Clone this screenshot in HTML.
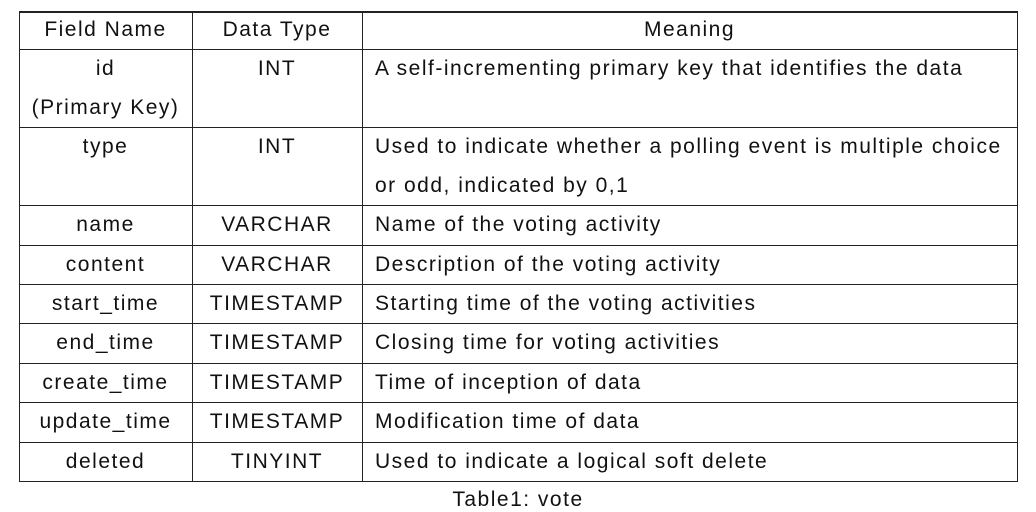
<!DOCTYPE html>
<html><head><meta charset="utf-8">
<style>
html,body{margin:0;padding:0;background:#fff;}
body{width:1036px;height:512px;position:relative;overflow:hidden;font-family:"Liberation Sans",sans-serif;font-size:21px;letter-spacing:1.5px;color:#111;}
.h{position:absolute;height:1.5px;background:#222;}
.v{position:absolute;width:1.5px;background:#222;}
.t{position:absolute;white-space:nowrap;line-height:24px;}
.c1{left:19px;width:173px;text-align:center;}
.c2{left:192px;width:170px;text-align:center;}
.c3{left:375px;}
</style></head><body>
<div id="tbl"></div>
<div class="t" style="left:0;width:1036px;text-align:center;top:488px;">Table1: vote</div>
<script>
const rows=[
 ["id\n(Primary Key)","INT","A self-incrementing primary key that identifies the data",49,127],
 ["type","INT","Used to indicate whether a polling event is multiple choice\nor odd, indicated by 0,1",127,205],
 ["name","VARCHAR","Name of the voting activity",205,245],
 ["content","VARCHAR","Description of the voting activity",245,284],
 ["start_time","TIMESTAMP","Starting time of the voting activities",284,323],
 ["end_time","TIMESTAMP","Closing time for voting activities",323,363],
 ["create_time","TIMESTAMP","Time of inception of data",363,402],
 ["update_time","TIMESTAMP","Modification time of data",402,442],
 ["deleted","TINYINT","Used to indicate a logical soft delete",442,481]
];
const tbl=document.getElementById('tbl');
function line(cls,l,t,w,h,name){const d=document.createElement('div');d.className=cls;d.style.left=l+'px';d.style.top=t+'px';if(w)d.style.width=w+'px';if(h)d.style.height=h+'px';


tbl.appendChild(d);}
function text(cls,txt,top,name){const d=document.createElement('div');d.className='t '+cls;d.style.top=top+'px';d.textContent=txt;


tbl.appendChild(d);}
line('h',19,11,999,0,'table-top-border');
line('h',19,48.5,999,0,'header-bottom-border');
line('v',18.5,11,0,471,'table-left-border');
line('v',191.5,11,0,471,'column-divider-1');
line('v',361.5,11,0,471,'column-divider-2');
line('v',1016.5,11,0,471,'table-right-border');
text('c1','Field Name',18,'header-field-name');
text('c2','Data Type',18,'header-data-type');
text('','Meaning',18,'header-meaning');
tbl.lastChild.style.left='362px';tbl.lastChild.style.width='655px';tbl.lastChild.style.textAlign='center';
rows.forEach(r=>{
 const [f,ty,m,top,bot]=r;
 line('h',19,bot-0.5,999,0,'row-border');
 const fl=f.split('\n'),ml=m.split('\n');
 const step=38.5;
 const t0=top+8;
 fl.forEach((s,i)=>text('c1',s,t0+i*step,'field-name-cell'));
 text('c2',ty,t0,'data-type-cell');
 ml.forEach((s,i)=>text('c3',s,t0+i*step,'meaning-cell'));
});
</script>
</body></html>
